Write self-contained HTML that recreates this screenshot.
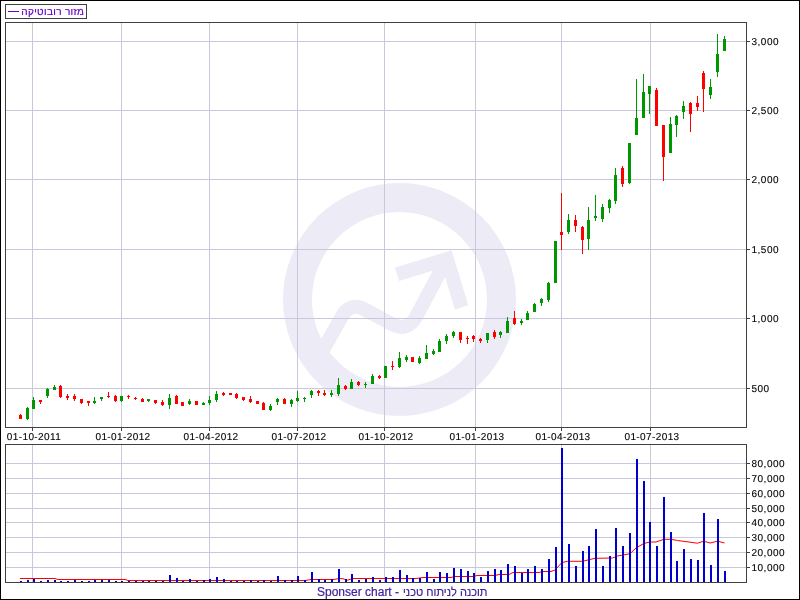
<!DOCTYPE html>
<html><head><meta charset="utf-8"><title>chart</title>
<style>
html,body{margin:0;padding:0;background:#fff;}
body{width:800px;height:600px;overflow:hidden;}
svg{display:block;will-change:transform;}
text{font-family:"Liberation Sans",sans-serif;}
.ax{font-size:10px;letter-spacing:0.4px;fill:#000;stroke:#000;stroke-width:0.12px;text-rendering:geometricPrecision;}
.yl{letter-spacing:0.5px;}
</style></head><body>
<svg width="800" height="600" viewBox="0 0 800 600">
<rect x="0" y="0" width="800" height="600" fill="#fff"/>
<g fill="none" stroke="#EDEBF6">
<circle cx="399.5" cy="299.5" r="102" stroke-width="29"/>
<path d="M318.3,358.2 L341.9,316.4 Q350.2,301.6 365.1,309.7 L390.9,323.7 Q407.6,332.8 416.5,316.0 L446.9,259.0" stroke-width="14"/>
<path d="M397,274.2 L446.9,259 L461.6,307.4" stroke-width="14" stroke-linejoin="miter"/>
</g>
<g fill="#C9C7DB" shape-rendering="crispEdges">
<rect x="32" y="23" width="1" height="404"/><rect x="32" y="445" width="1" height="137"/><rect x="121" y="23" width="1" height="404"/><rect x="121" y="445" width="1" height="137"/><rect x="209" y="23" width="1" height="404"/><rect x="209" y="445" width="1" height="137"/><rect x="297" y="23" width="1" height="404"/><rect x="297" y="445" width="1" height="137"/><rect x="384" y="23" width="1" height="404"/><rect x="384" y="445" width="1" height="137"/><rect x="475" y="23" width="1" height="404"/><rect x="475" y="445" width="1" height="137"/><rect x="561" y="23" width="1" height="404"/><rect x="561" y="445" width="1" height="137"/><rect x="650" y="23" width="1" height="404"/><rect x="650" y="445" width="1" height="137"/><rect x="6" y="41" width="740" height="1"/><rect x="6" y="110" width="740" height="1"/><rect x="6" y="179" width="740" height="1"/><rect x="6" y="249" width="740" height="1"/><rect x="6" y="318" width="740" height="1"/><rect x="6" y="388" width="740" height="1"/><rect x="6" y="463" width="740" height="1"/><rect x="6" y="478" width="740" height="1"/><rect x="6" y="493" width="740" height="1"/><rect x="6" y="508" width="740" height="1"/><rect x="6" y="522" width="740" height="1"/><rect x="6" y="537" width="740" height="1"/><rect x="6" y="552" width="740" height="1"/><rect x="6" y="567" width="740" height="1"/>
</g>
<polyline points="20.00,578.50 55.00,578.50 58.00,579.50 125.00,579.50 128.00,580.50 305.00,580.50 311.00,579.50 334.00,579.50 339.00,578.50 343.00,578.70 347.00,580.30 353.00,578.50 416.00,578.50 423.00,577.50 451.00,577.50 455.00,576.50 473.00,576.50 477.00,575.50 495.00,575.50 499.00,574.50 509.00,574.50 513.00,572.50 539.00,572.50 543.00,571.50 551.00,571.50 555.00,570.00 562.00,562.50 567.50,561.30 582.50,561.30 595.00,558.30 612.50,558.00 617.50,556.00 630.00,553.75 636.00,548.00 643.75,543.50 650.00,542.00 656.00,542.00 663.75,539.30 671.00,539.30 677.50,540.50 685.00,541.50 697.50,543.20 703.75,541.20 710.00,543.00 717.50,541.20 724.50,543.00" fill="none" stroke="#FF0000" stroke-width="1"/>
<g fill="#0000CE" shape-rendering="crispEdges">
<rect x="20" y="581" width="2" height="1"/><rect x="27" y="580" width="2" height="2"/><rect x="33" y="579" width="2" height="3"/><rect x="40" y="581" width="2" height="1"/><rect x="47" y="580" width="2" height="2"/><rect x="54" y="580" width="2" height="2"/><rect x="60" y="581" width="2" height="1"/><rect x="67" y="581" width="2" height="1"/><rect x="74" y="580" width="2" height="2"/><rect x="81" y="581" width="2" height="1"/><rect x="88" y="581" width="2" height="1"/><rect x="94" y="580" width="2" height="2"/><rect x="101" y="580" width="2" height="2"/><rect x="108" y="580" width="2" height="2"/><rect x="115" y="581" width="2" height="1"/><rect x="121" y="581" width="2" height="1"/><rect x="128" y="581" width="2" height="1"/><rect x="135" y="581" width="2" height="1"/><rect x="142" y="581" width="2" height="1"/><rect x="148" y="581" width="2" height="1"/><rect x="155" y="581" width="2" height="1"/><rect x="162" y="581" width="2" height="1"/><rect x="169" y="575" width="2" height="7"/><rect x="176" y="578" width="2" height="4"/><rect x="182" y="581" width="2" height="1"/><rect x="189" y="579" width="2" height="3"/><rect x="196" y="581" width="2" height="1"/><rect x="203" y="580" width="2" height="2"/><rect x="209" y="579" width="2" height="3"/><rect x="216" y="577" width="2" height="5"/><rect x="223" y="579" width="2" height="3"/><rect x="230" y="581" width="2" height="1"/><rect x="236" y="581" width="2" height="1"/><rect x="243" y="581" width="2" height="1"/><rect x="250" y="580" width="2" height="2"/><rect x="257" y="581" width="2" height="1"/><rect x="263" y="580" width="2" height="2"/><rect x="270" y="581" width="2" height="1"/><rect x="277" y="576" width="2" height="6"/><rect x="284" y="580" width="2" height="2"/><rect x="291" y="580" width="2" height="2"/><rect x="297" y="576" width="2" height="6"/><rect x="304" y="580" width="2" height="2"/><rect x="311" y="572" width="2" height="10"/><rect x="318" y="579" width="2" height="3"/><rect x="324" y="580" width="2" height="2"/><rect x="331" y="579" width="2" height="3"/><rect x="338" y="569" width="2" height="13"/><rect x="345" y="579" width="2" height="3"/><rect x="351" y="574" width="2" height="8"/><rect x="358" y="580" width="2" height="2"/><rect x="365" y="579" width="2" height="3"/><rect x="372" y="577" width="2" height="5"/><rect x="379" y="580" width="2" height="2"/><rect x="385" y="577" width="2" height="5"/><rect x="392" y="577" width="2" height="5"/><rect x="399" y="570" width="2" height="12"/><rect x="406" y="575" width="2" height="7"/><rect x="412" y="578" width="2" height="4"/><rect x="419" y="578" width="2" height="4"/><rect x="426" y="572" width="2" height="10"/><rect x="433" y="579" width="2" height="3"/><rect x="439" y="572" width="2" height="10"/><rect x="446" y="573" width="2" height="9"/><rect x="453" y="568" width="2" height="14"/><rect x="460" y="569" width="2" height="13"/><rect x="467" y="571" width="2" height="11"/><rect x="473" y="573" width="2" height="9"/><rect x="480" y="577" width="2" height="5"/><rect x="487" y="571" width="2" height="11"/><rect x="494" y="569" width="2" height="13"/><rect x="500" y="570" width="2" height="12"/><rect x="507" y="564" width="2" height="18"/><rect x="514" y="566" width="2" height="16"/><rect x="521" y="573" width="2" height="9"/><rect x="527" y="569" width="2" height="13"/><rect x="534" y="566" width="2" height="16"/><rect x="541" y="569" width="2" height="13"/><rect x="548" y="559" width="2" height="23"/><rect x="555" y="547" width="2" height="35"/><rect x="561" y="448" width="2" height="134"/><rect x="568" y="544" width="2" height="38"/><rect x="575" y="566" width="2" height="16"/><rect x="582" y="551" width="2" height="31"/><rect x="588" y="546" width="2" height="36"/><rect x="595" y="529" width="2" height="53"/><rect x="602" y="566" width="2" height="16"/><rect x="609" y="556" width="2" height="26"/><rect x="615" y="528" width="2" height="54"/><rect x="622" y="546" width="2" height="36"/><rect x="629" y="533" width="2" height="49"/><rect x="636" y="459" width="2" height="123"/><rect x="643" y="481" width="2" height="101"/><rect x="649" y="522" width="2" height="60"/><rect x="656" y="546" width="2" height="36"/><rect x="663" y="497" width="2" height="85"/><rect x="670" y="532" width="2" height="50"/><rect x="676" y="561" width="2" height="21"/><rect x="683" y="549" width="2" height="33"/><rect x="690" y="559" width="2" height="23"/><rect x="697" y="560" width="2" height="22"/><rect x="703" y="513" width="2" height="69"/><rect x="710" y="565" width="2" height="17"/><rect x="717" y="519" width="2" height="63"/><rect x="724" y="571" width="2" height="11"/>
</g>
<g fill="#009600" shape-rendering="crispEdges">
<rect x="27" y="407" width="1" height="13"/><rect x="26" y="408" width="3" height="11"/><rect x="33" y="397" width="1" height="12"/><rect x="32" y="400" width="3" height="9"/><rect x="47" y="388" width="1" height="10"/><rect x="46" y="389" width="3" height="7"/><rect x="54" y="385" width="1" height="5"/><rect x="53" y="387" width="3" height="3"/><rect x="94" y="397" width="1" height="7"/><rect x="93" y="401" width="3" height="2"/><rect x="101" y="397" width="1" height="4"/><rect x="100" y="397" width="3" height="2"/><rect x="121" y="396" width="1" height="6"/><rect x="120" y="396" width="3" height="5"/><rect x="148" y="399" width="1" height="3"/><rect x="147" y="399" width="3" height="2"/><rect x="169" y="394" width="1" height="15"/><rect x="168" y="398" width="3" height="7"/><rect x="189" y="399" width="1" height="6"/><rect x="188" y="401" width="3" height="3"/><rect x="203" y="402" width="1" height="3"/><rect x="202" y="403" width="3" height="2"/><rect x="209" y="396" width="1" height="9"/><rect x="208" y="400" width="3" height="3"/><rect x="216" y="391" width="1" height="11"/><rect x="215" y="394" width="3" height="6"/><rect x="270" y="404" width="1" height="7"/><rect x="269" y="406" width="3" height="4"/><rect x="277" y="398" width="1" height="7"/><rect x="276" y="399" width="3" height="3"/><rect x="291" y="399" width="1" height="8"/><rect x="290" y="400" width="3" height="4"/><rect x="297" y="391" width="1" height="11"/><rect x="296" y="398" width="3" height="3"/><rect x="304" y="397" width="1" height="5"/><rect x="303" y="398" width="3" height="1"/><rect x="311" y="390" width="1" height="8"/><rect x="310" y="391" width="3" height="4"/><rect x="331" y="390" width="1" height="7"/><rect x="330" y="393" width="3" height="2"/><rect x="338" y="378" width="1" height="18"/><rect x="337" y="385" width="3" height="9"/><rect x="351" y="379" width="1" height="10"/><rect x="350" y="382" width="3" height="7"/><rect x="365" y="382" width="1" height="6"/><rect x="364" y="384" width="3" height="1"/><rect x="372" y="374" width="1" height="10"/><rect x="371" y="376" width="3" height="8"/><rect x="384" y="366" width="3" height="12"/><rect x="399" y="352" width="1" height="16"/><rect x="398" y="358" width="3" height="9"/><rect x="406" y="355" width="1" height="7"/><rect x="405" y="357" width="3" height="3"/><rect x="419" y="356" width="1" height="8"/><rect x="418" y="358" width="3" height="5"/><rect x="426" y="345" width="1" height="14"/><rect x="425" y="353" width="3" height="6"/><rect x="433" y="349" width="1" height="6"/><rect x="432" y="351" width="3" height="3"/><rect x="439" y="339" width="1" height="13"/><rect x="438" y="341" width="3" height="11"/><rect x="446" y="334" width="1" height="10"/><rect x="445" y="336" width="3" height="5"/><rect x="453" y="331" width="1" height="7"/><rect x="452" y="332" width="3" height="4"/><rect x="487" y="333" width="1" height="10"/><rect x="486" y="333" width="3" height="7"/><rect x="500" y="331" width="1" height="7"/><rect x="499" y="332" width="3" height="3"/><rect x="507" y="317" width="1" height="16"/><rect x="506" y="321" width="3" height="12"/><rect x="521" y="319" width="1" height="6"/><rect x="520" y="321" width="3" height="2"/><rect x="527" y="311" width="1" height="9"/><rect x="526" y="313" width="3" height="7"/><rect x="534" y="303" width="1" height="9"/><rect x="533" y="304" width="3" height="8"/><rect x="541" y="298" width="1" height="8"/><rect x="540" y="299" width="3" height="4"/><rect x="548" y="282" width="1" height="20"/><rect x="547" y="283" width="3" height="17"/><rect x="554" y="241" width="3" height="42"/><rect x="568" y="214" width="1" height="20"/><rect x="567" y="220" width="3" height="12"/><rect x="588" y="207" width="1" height="43"/><rect x="587" y="220" width="3" height="19"/><rect x="595" y="195" width="1" height="26"/><rect x="594" y="216" width="3" height="2"/><rect x="602" y="204" width="1" height="18"/><rect x="601" y="207" width="3" height="12"/><rect x="609" y="199" width="1" height="14"/><rect x="608" y="200" width="3" height="8"/><rect x="615" y="168" width="1" height="36"/><rect x="614" y="175" width="3" height="26"/><rect x="629" y="143" width="1" height="41"/><rect x="628" y="143" width="3" height="40"/><rect x="636" y="79" width="1" height="56"/><rect x="635" y="118" width="3" height="17"/><rect x="643" y="74" width="1" height="44"/><rect x="642" y="92" width="3" height="26"/><rect x="649" y="86" width="1" height="28"/><rect x="648" y="86" width="3" height="8"/><rect x="670" y="117" width="1" height="36"/><rect x="669" y="124" width="3" height="29"/><rect x="676" y="115" width="1" height="22"/><rect x="675" y="116" width="3" height="9"/><rect x="683" y="101" width="1" height="18"/><rect x="682" y="106" width="3" height="6"/><rect x="710" y="79" width="1" height="20"/><rect x="709" y="87" width="3" height="8"/><rect x="717" y="34" width="1" height="43"/><rect x="716" y="54" width="3" height="18"/><rect x="724" y="36" width="1" height="15"/><rect x="723" y="39" width="3" height="12"/>
</g>
<g fill="#FF0000" shape-rendering="crispEdges">
<rect x="20" y="414" width="1" height="5"/><rect x="19" y="415" width="3" height="4"/><rect x="40" y="400" width="1" height="4"/><rect x="39" y="400" width="3" height="2"/><rect x="60" y="385" width="1" height="13"/><rect x="59" y="386" width="3" height="11"/><rect x="67" y="394" width="1" height="6"/><rect x="66" y="396" width="3" height="2"/><rect x="74" y="394" width="1" height="7"/><rect x="73" y="396" width="3" height="3"/><rect x="81" y="399" width="1" height="5"/><rect x="80" y="399" width="3" height="4"/><rect x="88" y="401" width="1" height="5"/><rect x="87" y="401" width="3" height="2"/><rect x="108" y="392" width="1" height="6"/><rect x="107" y="396" width="3" height="1"/><rect x="115" y="395" width="1" height="7"/><rect x="114" y="396" width="3" height="5"/><rect x="128" y="395" width="1" height="4"/><rect x="127" y="396" width="3" height="1"/><rect x="135" y="397" width="1" height="3"/><rect x="134" y="398" width="3" height="1"/><rect x="142" y="398" width="1" height="4"/><rect x="141" y="399" width="3" height="3"/><rect x="155" y="400" width="1" height="4"/><rect x="154" y="400" width="3" height="3"/><rect x="162" y="400" width="1" height="6"/><rect x="161" y="402" width="3" height="3"/><rect x="176" y="395" width="1" height="9"/><rect x="175" y="396" width="3" height="8"/><rect x="181" y="402" width="3" height="4"/><rect x="195" y="401" width="3" height="4"/><rect x="223" y="392" width="1" height="4"/><rect x="222" y="393" width="3" height="2"/><rect x="229" y="393" width="3" height="2"/><rect x="236" y="393" width="1" height="6"/><rect x="235" y="394" width="3" height="4"/><rect x="243" y="397" width="1" height="4"/><rect x="242" y="397" width="3" height="3"/><rect x="250" y="396" width="1" height="7"/><rect x="249" y="399" width="3" height="3"/><rect x="256" y="401" width="3" height="3"/><rect x="263" y="402" width="1" height="8"/><rect x="262" y="403" width="3" height="7"/><rect x="284" y="398" width="1" height="6"/><rect x="283" y="399" width="3" height="5"/><rect x="318" y="390" width="1" height="6"/><rect x="317" y="391" width="3" height="2"/><rect x="324" y="390" width="1" height="6"/><rect x="323" y="393" width="3" height="2"/><rect x="345" y="385" width="1" height="5"/><rect x="344" y="386" width="3" height="3"/><rect x="358" y="381" width="1" height="5"/><rect x="357" y="382" width="3" height="3"/><rect x="379" y="375" width="1" height="4"/><rect x="378" y="376" width="3" height="2"/><rect x="392" y="361" width="1" height="9"/><rect x="391" y="366" width="3" height="1"/><rect x="411" y="357" width="3" height="5"/><rect x="460" y="332" width="1" height="11"/><rect x="459" y="332" width="3" height="8"/><rect x="467" y="336" width="1" height="8"/><rect x="466" y="338" width="3" height="1"/><rect x="473" y="335" width="1" height="7"/><rect x="472" y="336" width="3" height="3"/><rect x="480" y="338" width="1" height="5"/><rect x="479" y="339" width="3" height="2"/><rect x="494" y="330" width="1" height="9"/><rect x="493" y="332" width="3" height="5"/><rect x="514" y="311" width="1" height="14"/><rect x="513" y="318" width="3" height="6"/><rect x="561" y="193" width="1" height="57"/><rect x="560" y="232" width="3" height="3"/><rect x="575" y="215" width="1" height="17"/><rect x="574" y="220" width="3" height="6"/><rect x="582" y="226" width="1" height="28"/><rect x="581" y="227" width="3" height="13"/><rect x="622" y="166" width="1" height="21"/><rect x="621" y="168" width="3" height="16"/><rect x="656" y="88" width="1" height="38"/><rect x="655" y="90" width="3" height="36"/><rect x="663" y="125" width="1" height="56"/><rect x="662" y="125" width="3" height="32"/><rect x="690" y="102" width="1" height="30"/><rect x="689" y="103" width="3" height="11"/><rect x="697" y="96" width="1" height="15"/><rect x="696" y="103" width="3" height="4"/><rect x="703" y="71" width="1" height="41"/><rect x="702" y="73" width="3" height="16"/>
</g>
<g fill="none" stroke="#404040" shape-rendering="crispEdges">
<rect x="5.5" y="22.5" width="741" height="405"/>
<rect x="5.5" y="444.5" width="741" height="138"/>
<rect x="5.5" y="4.5" width="81" height="14" fill="#fff"/>
</g>
<g fill="#404040" shape-rendering="crispEdges">
<rect x="747" y="41" width="3" height="1"/><rect x="747" y="110" width="3" height="1"/><rect x="747" y="179" width="3" height="1"/><rect x="747" y="249" width="3" height="1"/><rect x="747" y="318" width="3" height="1"/><rect x="747" y="388" width="3" height="1"/><rect x="747" y="463" width="3" height="1"/><rect x="747" y="478" width="3" height="1"/><rect x="747" y="493" width="3" height="1"/><rect x="747" y="508" width="3" height="1"/><rect x="747" y="522" width="3" height="1"/><rect x="747" y="537" width="3" height="1"/><rect x="747" y="552" width="3" height="1"/><rect x="747" y="567" width="3" height="1"/><rect x="32" y="428" width="1" height="3"/><rect x="121" y="428" width="1" height="3"/><rect x="209" y="428" width="1" height="3"/><rect x="297" y="428" width="1" height="3"/><rect x="384" y="428" width="1" height="3"/><rect x="475" y="428" width="1" height="3"/><rect x="561" y="428" width="1" height="3"/><rect x="650" y="428" width="1" height="3"/>
</g>
<g class="ax" opacity="0.999">
<text class="yl" x="751.5" y="45">3,000</text><text class="yl" x="751.5" y="114">2,500</text><text class="yl" x="751.5" y="183">2,000</text><text class="yl" x="751.5" y="253">1,500</text><text class="yl" x="751.5" y="322">1,000</text><text class="yl" x="751.5" y="392">500</text><text class="yl" x="751.5" y="467">80,000</text><text class="yl" x="751.5" y="482">70,000</text><text class="yl" x="751.5" y="497">60,000</text><text class="yl" x="751.5" y="512">50,000</text><text class="yl" x="751.5" y="526">40,000</text><text class="yl" x="751.5" y="541">30,000</text><text class="yl" x="751.5" y="556">20,000</text><text class="yl" x="751.5" y="571">10,000</text>
<text x="34" y="440" text-anchor="middle">01-10-2011</text><text x="123" y="440" text-anchor="middle">01-01-2012</text><text x="211" y="440" text-anchor="middle">01-04-2012</text><text x="299" y="440" text-anchor="middle">01-07-2012</text><text x="386" y="440" text-anchor="middle">01-10-2012</text><text x="477" y="440" text-anchor="middle">01-01-2013</text><text x="563" y="440" text-anchor="middle">01-04-2013</text><text x="652" y="440" text-anchor="middle">01-07-2013</text>
</g>
<rect x="8" y="11" width="11" height="1" fill="#6600CC" shape-rendering="crispEdges"/>
<text x="21.3" y="15" font-size="10" letter-spacing="0.33" text-rendering="geometricPrecision" fill="#6600CC" stroke="#6600CC" stroke-width="0.2" id="leg">מזור רובוטיקה</text>
<text x="317" y="596" font-size="12" fill="#40229A" stroke="#40229A" stroke-width="0.2" id="foot">Sponser chart -</text>
<text x="403" y="596" font-size="12" fill="#40229A" stroke="#40229A" stroke-width="0.2" id="foot2" textLength="84.5" lengthAdjust="spacingAndGlyphs">תוכנה לניתוח טכני</text>
<rect x="0.5" y="0.5" width="799" height="599" fill="none" stroke="#000" shape-rendering="crispEdges"/>
</svg>
</body></html>
